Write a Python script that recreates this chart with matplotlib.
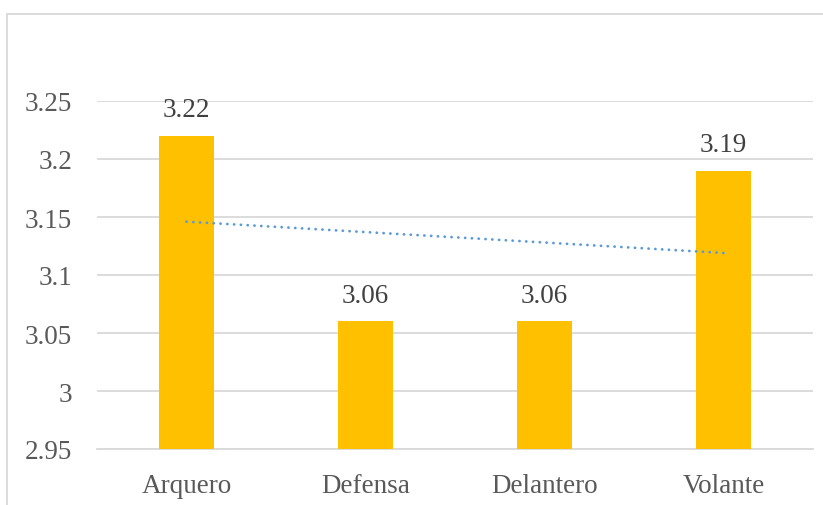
import numpy as np
import matplotlib
matplotlib.use('Agg')
import matplotlib.pyplot as plt
from matplotlib.patches import Rectangle

plt.rcParams['font.family'] = ['Liberation Serif', 'DejaVu Serif']

# datos
posiciones = ['Arquero', 'Defensa', 'Delantero', 'Volante']
promedios = [3.22, 3.06, 3.06, 3.19]
marcas_y = [2.95, 3.0, 3.05, 3.1, 3.15, 3.2, 3.25]

fig = plt.figure(figsize=(8.23, 5.06), dpi=100)
W, H = 823, 506
ax = fig.add_axes([97 / W, (H - 450) / H, (813 - 97) / W, (450 - 102) / H])

# marco del grafico
fig.patches.append(Rectangle((7 / W, -0.1), 1.2, (H - 15) / H + 0.1,
                             transform=fig.transFigure, fill=False,
                             edgecolor='#D9D9D9', linewidth=1.3))

x = np.arange(len(posiciones))
ax.bar(x, promedios, width=0.31, color='#FFC000', zorder=3)

# etiquetas de valor
for xi, v in zip(x, promedios):
    ax.annotate(f'{v:.2f}', (xi, v), xytext=(0, 10), textcoords='offset points',
                ha='center', va='bottom', fontsize=19.5, color='#404040')

# linea de tendencia lineal
m, b = np.polyfit(x, promedios, 1)
ax.plot(x[[0, -1]], m * x[[0, -1]] + b, color='#5B9BD5', linewidth=2.0,
        linestyle=(0, (0.05, 2.4)), dash_capstyle='round', zorder=4)

ax.set_xlim(-0.5, len(posiciones) - 0.5)
ax.set_ylim(2.95, 3.25)
ax.set_yticks(marcas_y)
ax.set_yticklabels([f'{v:g}' for v in marcas_y])
ax.set_xticks(x)
ax.set_xticklabels(posiciones)
ax.tick_params(axis='both', length=0, labelsize=19.5, labelcolor='#595959')
ax.tick_params(axis='y', pad=18)
ax.tick_params(axis='x', pad=17)

ax.grid(axis='y', color='#D9D9D9', linewidth=1.3, zorder=0)
for s in ['top', 'right', 'left']:
    ax.spines[s].set_visible(False)
ax.spines['bottom'].set_color('#D9D9D9')
ax.spines['bottom'].set_linewidth(1.3)

fig.savefig('out.png', dpi=100)
